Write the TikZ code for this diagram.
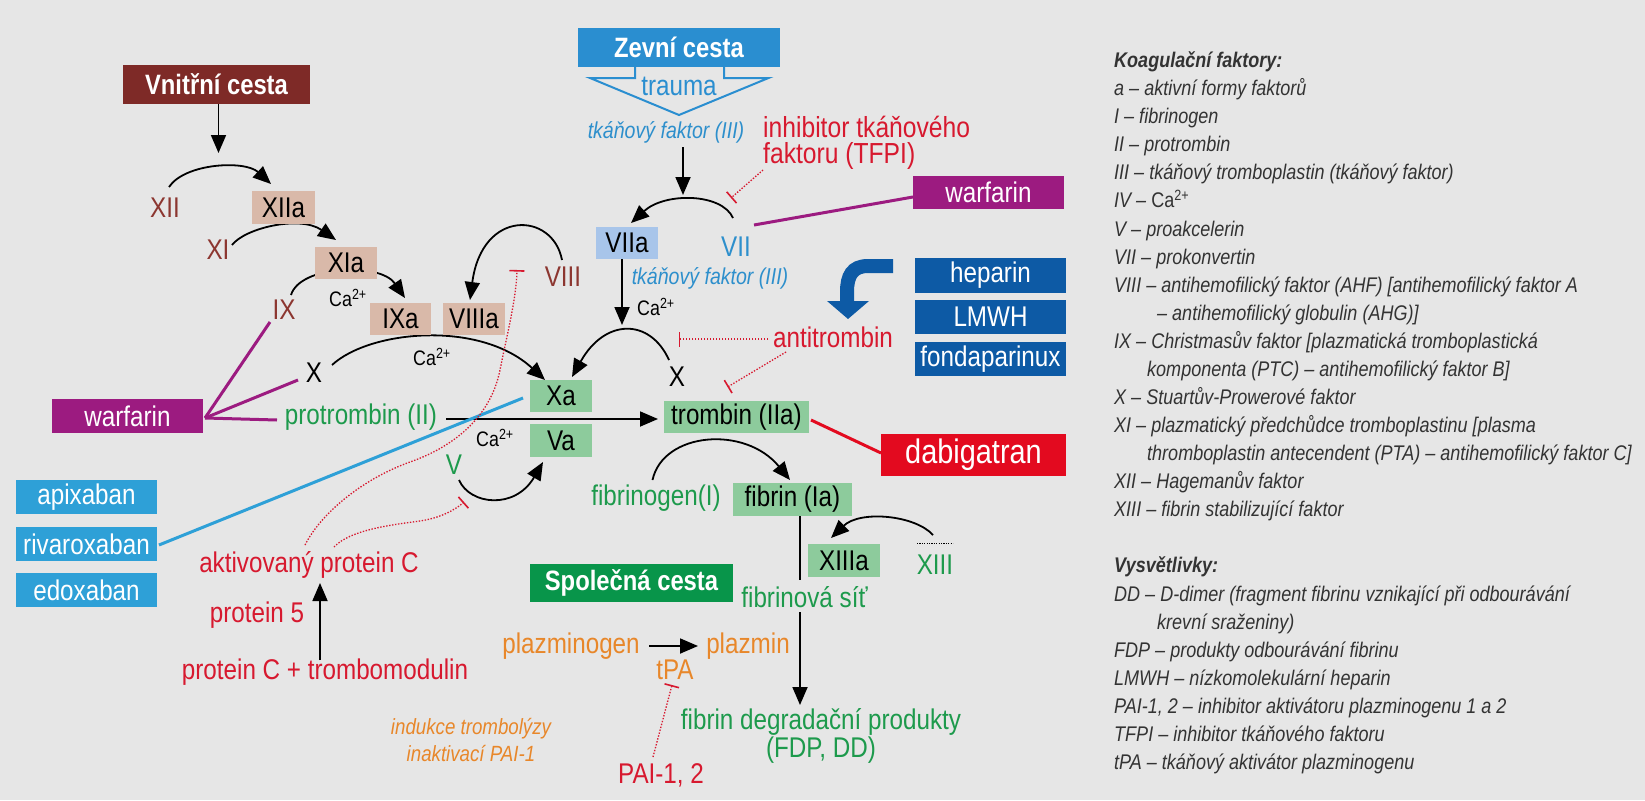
\documentclass[tikz,border=0pt]{standalone}
\usepackage{fontspec}
\setmainfont{Liberation Sans}[FakeStretch=0.85]
\usetikzlibrary{arrows.meta}
\definecolor{bg}{HTML}{E6E6E6}
\definecolor{vnbox}{HTML}{7E2A27}
\definecolor{dkred}{HTML}{8C3630}
\definecolor{tanbx}{HTML}{D9B9A9}
\definecolor{vbx}{HTML}{A8C5EA}
\definecolor{gbx}{HTML}{8DCB9C}
\definecolor{gtxt}{HTML}{1D9A4C}
\definecolor{btxt}{HTML}{2D8FCC}
\definecolor{rtxt}{HTML}{D7192F}
\definecolor{otxt}{HTML}{E8872A}
\definecolor{purp}{HTML}{9C1B80}
\definecolor{lblu}{HTML}{2EA0D7}
\definecolor{dblu}{HTML}{0D5AA5}
\definecolor{dabc}{HTML}{E30A1F}
\definecolor{spol}{HTML}{08954A}
\definecolor{zev}{HTML}{2A8ED0}
\definecolor{legc}{HTML}{333333}
\begin{document}
\begin{tikzpicture}[x=1pt,y=-1pt,
  lab/.style={inner sep=0pt, font=\fontsize{28.5}{30}\selectfont},
  calab/.style={inner sep=0pt, font=\fontsize{21}{22}\selectfont},
  tflab/.style={inner sep=0pt, text=btxt, font=\fontsize{23}{25}\selectfont\itshape},
  fbox/.style={inner sep=0pt, font=\fontsize{28.5}{30}\selectfont, minimum height=32pt},
  tbox/.style={fbox, fill=tanbx, minimum width=62pt},
  gbox/.style={fbox, fill=gbx},
  dbox/.style={fbox, text=white, minimum width=151pt, minimum height=34pt},
  hbox/.style={fbox, text=white, font=\fontsize{28}{30}\selectfont\bfseries, minimum height=39pt},
  arr/.style={draw=black, line width=1.8pt, -{Triangle[length=18pt,width=15pt]}},
  plain/.style={draw=black, line width=1.8pt},
  drugline/.style={line width=3pt},
  inh/.style={draw=rtxt, line width=1.3pt, dash pattern=on 1.4pt off 1.6pt, -{Bar[width=15pt,line width=1.6pt]}},
  leg/.style={anchor=base west, inner sep=0pt, text=legc, font=\fontsize{21.2}{24}\selectfont\itshape}
]
\fill[bg] (0,0) rectangle (1645,800);
\useasboundingbox (0,0) rectangle (1645,800);

% ---------- labels (plain text) ----------
\node[lab, text=dkred] (XII) at (165,208) {XII};
\node[lab, text=dkred] (XI) at (218,250) {XI};
\node[lab, text=dkred] (IX) at (284,310) {IX};
\node[lab, text=dkred] (VIII) at (563,277) {VIII};
\node[lab] (Xl) at (314,373) {X};
\node[lab] (Xr) at (677,377) {X};
\node[lab, text=btxt] (VII) at (736,247) {VII};
\node[lab, text=gtxt] (V) at (454,465) {V};
\node[lab, text=gtxt] (prot) at (361,417) {protrombin (II)};
\node[calab] (ca1) at (348,298) {Ca\textsuperscript{2+}};
\node[calab] (ca2) at (432,357) {Ca\textsuperscript{2+}};
\node[calab] (ca3) at (656,307) {Ca\textsuperscript{2+}};
\node[calab] (ca4) at (495,438) {Ca\textsuperscript{2+}};
\node[tflab] (tf1) at (666,132) {tkáňový faktor (III)};
\node[tflab] (tf2) at (710,278) {tkáňový faktor (III)};
\node[lab, text=rtxt, anchor=west, align=left, font=\fontsize{29}{26}\selectfont] (inhib) at (763,142.5) {inhibitor tkáňového\\faktoru (TFPI)};
\node[lab, text=rtxt] (anti) at (833,337) {antitrombin};
\node[lab, text=rtxt] (akt) at (309,565) {aktivovaný protein C};
\node[lab, text=rtxt] (prot5) at (257,615) {protein 5};
\node[lab, text=rtxt] (protC) at (325,672) {protein C + trombomodulin};
\node[lab, text=gtxt] (fgen) at (656,498) {fibrinogen(I)};
\node[lab, text=gtxt] (sit) at (804.5,597) {fibrinová síť};
\node[lab, text=gtxt] (XIII) at (935,565) {XIII};
\node[lab, text=otxt] (plg) at (571,646) {plazminogen};
\node[lab, text=otxt] (plm) at (748,646) {plazmin};
\node[lab, text=otxt] (tPA) at (675,670) {tPA};
\node[lab, text=rtxt] (PAI) at (661,775) {PAI-1, 2};
\node[lab, text=gtxt, align=center, font=\fontsize{28.5}{28}\selectfont] (fdp) at (821,736) {fibrin degradační produkty\\(FDP, DD)};
\node[lab, text=otxt, align=center, font=\fontsize{22}{27}\selectfont\itshape] (ind) at (471,740) {indukce trombolýzy\\inaktivací PAI-1};

% ---------- curved / straight connectors (under boxes) ----------
\coordinate (intrTip) at (218.5,153);
\coordinate (extTip) at (683,195);
\coordinate (VIIaTip) at (622,325);
\draw[arr] ([xshift=2pt]216.5,104) -- (intrTip);
\draw[arr] ([shift={(4,-21)}]XII.center) .. controls (185,163) and (245,160) .. ([shift={(-12.5,-23.5)}]283.5,207.5);
\draw[arr] ([shift={(14,-5)}]XI.center) .. controls (245,228) and (300,215) .. ([shift={(-10,-23)}]346,263);
\draw[arr] ([shift={(7,-15)}]IX.center) .. controls (300,265) and (380,262) .. ([shift={(4.5,-21)}]400.5,319);
\draw[arr] ([shift={(18,-8)}]Xl.center) .. controls (370,330) and (480,320) .. ([shift={(-16,-16)}]561,396);
\draw[arr] ([shift={(-1,-17)}]VIII.center) .. controls (553,212) and (482,208) .. ([shift={(-4,-19)}]474,319);

% ---------- boxes ----------
\node[hbox, fill=vnbox, minimum width=187pt] (vnitr) at (216.5,84.5) {Vnitřní cesta};
\draw[zev, line width=2pt, line join=miter] (635,66) -- (635,78) -- (590,78) -- (679,115) -- (768.5,78) -- (724,78) -- (724,66);
\node[hbox, fill=zev, minimum width=202pt] (zevni) at (679,47.5) {Zevní cesta};
\node[lab, text=zev] (trauma) at (679,86) {trauma};
\node[tbox, minimum width=63pt, minimum height=33pt] (XIIa) at (283.5,207.5) {XIIa};
\node[tbox] (XIa) at (346,263) {XIa};
\node[tbox, minimum width=61pt] (IXa) at (400.5,319) {IXa};
\node[tbox] (VIIIa) at (474,319) {VIIIa};
\node[fbox, fill=vbx, minimum width=62pt] (VIIa) at (627,243) {VIIa};
\node[gbox, minimum width=62pt] (Xa) at (561,396) {Xa};
\node[gbox, minimum width=62pt, minimum height=33pt] (Va) at (561,440.5) {Va};
\node[gbox, minimum width=145pt] (trombin) at (736.5,417) {trombin (IIa)};
\node[gbox, minimum width=119pt, minimum height=33pt] (fibrin) at (792.5,499.5) {fibrin (Ia)};
\node[gbox, minimum width=72pt, minimum height=33pt] (XIIIa) at (844,560.5) {XIIIa};
\node[dbox, fill=purp] (warfL) at (127.5,416) {warfarin};
\node[dbox, fill=purp, minimum height=33pt] (warfR) at (988.5,192.5) {warfarin};
\node[dbox, fill=dblu, minimum height=35pt] (hep) at (990.5,275.5) {heparin};
\node[dbox, fill=dblu] (lmwh) at (990.5,317) {LMWH};
\node[dbox, fill=dblu] (fonda) at (990.5,359) {fondaparinux};
\node[fbox, fill=dabc, text=white, minimum width=185pt, minimum height=42pt, font=\fontsize{34}{36}\selectfont] (dabig) at (973.5,455) {dabigatran};
\node[dbox, fill=lblu, minimum width=141pt] (apix) at (86.5,497) {apixaban};
\node[dbox, fill=lblu, minimum width=141pt] (riva) at (86.5,544) {rivaroxaban};
\node[dbox, fill=lblu, minimum width=141pt] (edox) at (86.5,590) {edoxaban};
\node[hbox, fill=spol, minimum width=203pt, minimum height=38pt] (spolc) at (631.5,583) {Společná cesta};

% ---------- extrinsic & common connectors ----------
\draw[arr] ([shift={(17,15)}]tf1.center) -- (extTip);
\draw[arr] ([shift={(-3,-29)}]VII.center) .. controls (722,193) and (665,192) .. ([shift={(4,-20)}]VIIa.center);
\draw[arr] ([shift={(-5,16)}]VIIa.center) -- (VIIaTip);
\draw[arr] ([shift={(-8,-17)}]Xr.center) .. controls (650,318) and (605,318) .. ([shift={(11,-19)}]Xa.center);
\draw[arr] ([shift={(85,2)}]prot.center) -- ([shift={(-78.5,2)}]trombin.center);
\draw[arr] ([shift={(5,15)}]V.center) .. controls (470,505) and (515,510) .. ([shift={(-18,21.5)}]Va.center);
\draw[arr] ([shift={(-3.5,-18)}]fgen.center) .. controls (663,432) and (745,425) .. ([shift={(-2.5,-19.5)}]fibrin.center);
\draw[plain] ([shift={(7.5,16.5)}]fibrin.center) -- ([shift={(-4.5,-17)}]sit.center);
\draw[arr] ([shift={(-4.5,15)}]sit.center) -- ([shift={(-21,-31)}]fdp.center);
\draw[arr] ([shift={(-2,-30)}]XIII.center) .. controls (915,515) and (860,510) .. ([shift={(-13,-22.5)}]XIIIa.center);
\draw[black, line width=1pt, dash pattern=on 1.2pt off 1.2pt] ([shift={(-18,-22)}]XIII.center) -- ([shift={(18,-22)}]XIII.center);
\draw[arr] ([shift={(78,0)}]plg.center) -- ([shift={(-50,0)}]plm.center);
\draw[arr] ([shift={(-5,-12)}]protC.center) -- ([shift={(11,18)}]akt.center);

% ---------- drug lines ----------
\draw[drugline, purp] ([shift={(77.5,2)}]warfL.center) -- ([shift={(-14,12)}]IX.center);
\draw[drugline, purp] ([shift={(77.5,2)}]warfL.center) -- ([shift={(-16,7)}]Xl.center);
\draw[drugline, purp] ([shift={(77.5,2)}]warfL.center) -- ([shift={(-84,3)}]prot.center);
\draw[drugline, purp] ([shift={(-75.5,4.5)}]warfR.center) -- ([shift={(18,-22)}]VII.center);
\draw[drugline, lblu] ([shift={(72.5,1)}]riva.center) -- ([shift={(-38,2)}]Xa.center);
\draw[drugline, dabc] ([shift={(74.5,3)}]trombin.center) -- ([shift={(-92.5,-2)}]dabig.center);

% ---------- inhibitions ----------
\draw[inh] ([shift={(0,27.5)}]inhib.west) -- ([shift={(-5,-49)}]VII.center);
\draw[inh] ([shift={(-65,2)}]anti.center) -- ([shift={(1.6,-38)}]Xr.center);
\draw[inh] ([shift={(-47,15)}]anti.center) -- ([shift={(-9,-30)}]trombin.center);
\draw[inh] ([shift={(-4,-20)}]akt.center) .. controls (320,515) and (360,480) .. (410,462) .. controls (450,448) and (490,420) .. (500,370) .. controls (508,330) and (516,300) .. ([shift={(-46,-7)}]VIII.center);
\draw[inh] ([shift={(25,-18)}]akt.center) .. controls (350,530) and (390,525) .. (420,521) .. controls (440,518) and (455,510) .. ([shift={(10,37)}]V.center);
\draw[inh] ([shift={(-8,-18)}]PAI.center) -- ([shift={(-3,15)}]tPA.center);

% ---------- blue curved arrow ----------
\draw[dblu, line width=14pt] (893,266) -- (868,266) .. controls (852,266) and (847,276) .. (847,292) -- (847,302);
\fill[dblu] (827,301) -- (869,301) -- (848,319) -- cycle;

% ---------- legend ----------
\node[leg] (leg0) at (1114,67.5) {\bfseries Koagulační faktory:};
\node[leg] (leg1) at (1114,95.6) {a – aktivní formy faktorů};
\node[leg] (leg2) at (1114,123.7) {I – fibrinogen};
\node[leg] (leg3) at (1114,151.7) {II – protrombin};
\node[leg] (leg4) at (1114,179.8) {III – tkáňový tromboplastin (tkáňový faktor)};
\node[leg] (leg5) at (1114,207.9) {IV – \textup{Ca\textsuperscript{2+}}};
\node[leg] (leg6) at (1114,236.0) {V – proakcelerin};
\node[leg] (leg7) at (1114,264.1) {VII – prokonvertin};
\node[leg] (leg8) at (1114,292.1) {VIII – antihemofilický faktor (AHF) [antihemofilický faktor A};
\node[leg] (leg9) at (1157,320.2) {– antihemofilický globulin (AHG)]};
\node[leg] (leg10) at (1114,348.3) {IX – Christmasův faktor [plazmatická tromboplastická};
\node[leg] (leg11) at (1147,376.4) {komponenta (PTC) – antihemofilický faktor B]};
\node[leg] (leg12) at (1114,404.5) {X – Stuartův-Prowerové faktor};
\node[leg] (leg13) at (1114,432.5) {XI – plazmatický předchůdce tromboplastinu [plasma};
\node[leg] (leg14) at (1147,460.6) {thromboplastin antecendent (PTA) – antihemofilický faktor C]};
\node[leg] (leg15) at (1114,488.7) {XII – Hagemanův faktor};
\node[leg] (leg16) at (1114,516.8) {XIII – fibrin stabilizující faktor};
\node[leg] (leg18) at (1114,572.9) {\bfseries Vysvětlivky:};
\node[leg] (leg19) at (1114,601.0) {DD – D-dimer (fragment fibrinu vznikající při odbourávání};
\node[leg] (leg20) at (1157,629.1) {krevní sraženiny)};
\node[leg] (leg21) at (1114,657.2) {FDP – produkty odbourávání fibrinu};
\node[leg] (leg22) at (1114,685.3) {LMWH – nízkomolekulární heparin};
\node[leg] (leg23) at (1114,713.3) {PAI-1, 2 – inhibitor aktivátoru plazminogenu 1 a 2};
\node[leg] (leg24) at (1114,741.4) {TFPI – inhibitor tkáňového faktoru};
\node[leg] (leg25) at (1114,769.5) {tPA – tkáňový aktivátor plazminogenu};
\end{tikzpicture}
\end{document}
